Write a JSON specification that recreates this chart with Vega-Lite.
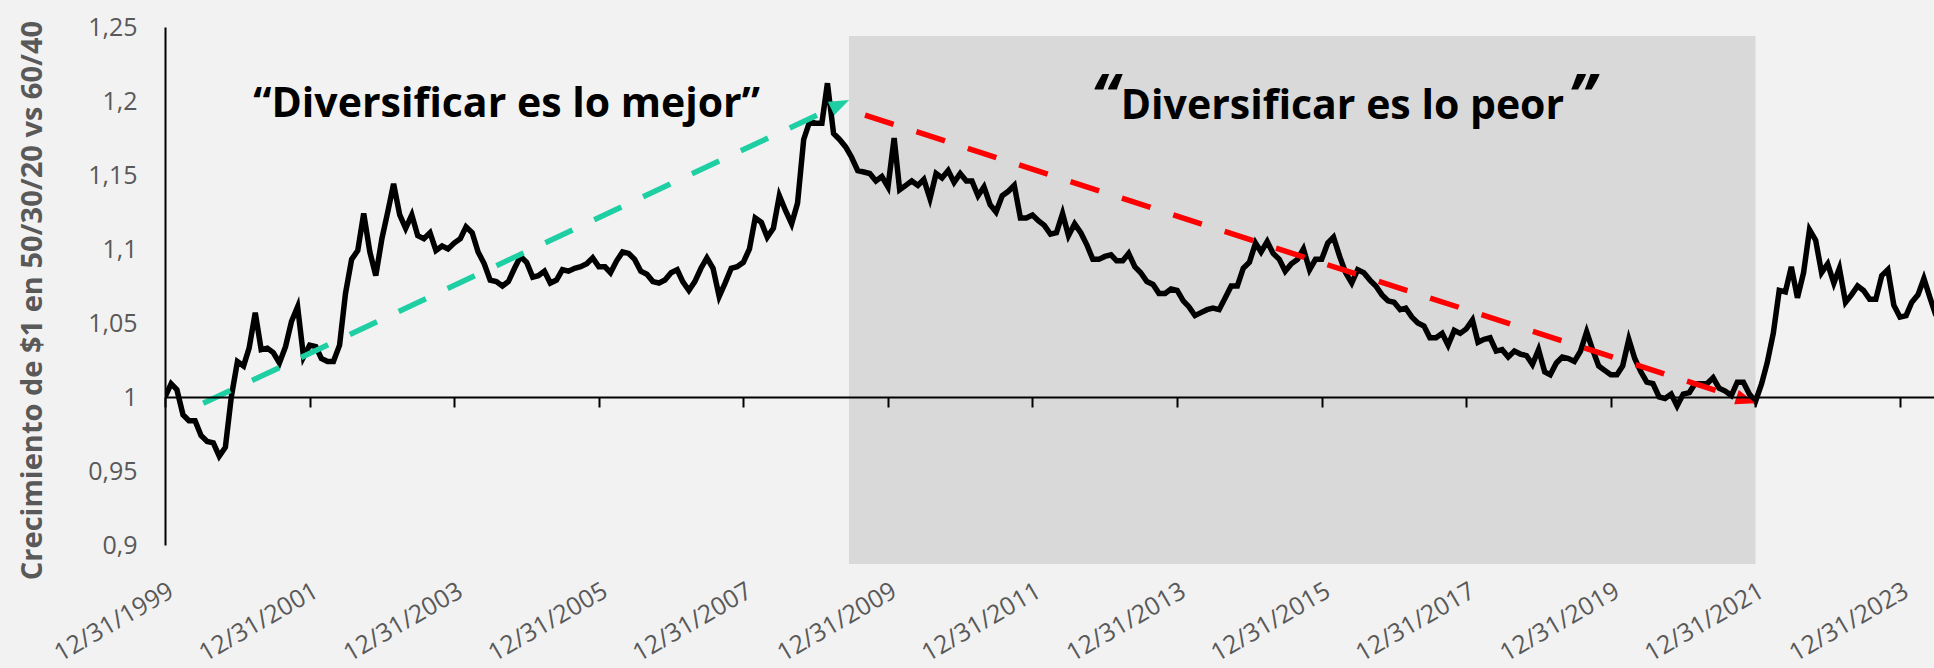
{
  "$schema": "https://vega.github.io/schema/vega-lite/v6.json",
  "width": 1769,
  "height": 518,
  "autosize": {"type": "none"},
  "padding": {"left": 165, "top": 27, "right": 0, "bottom": 123},
  "background": "#f2f2f2",
  "config": {"view": {"stroke": null}, "font": "Open Sans"},
  "datasets": {
    "series": [
      {"date":"1999-12-31","value":1.000},
      {"date":"2000-01-31","value":1.009},{"date":"2000-02-29","value":1.005},{"date":"2000-03-31","value":0.988},{"date":"2000-04-30","value":0.984},{"date":"2000-05-31","value":0.984},{"date":"2000-06-30","value":0.974},{"date":"2000-07-31","value":0.970},{"date":"2000-08-31","value":0.969},{"date":"2000-09-30","value":0.960},{"date":"2000-10-31","value":0.966},{"date":"2000-11-30","value":1.000},{"date":"2000-12-31","value":1.024},
      {"date":"2001-01-31","value":1.021},{"date":"2001-02-28","value":1.033},{"date":"2001-03-31","value":1.057},{"date":"2001-04-30","value":1.032},{"date":"2001-05-31","value":1.033},{"date":"2001-06-30","value":1.030},{"date":"2001-07-31","value":1.023},{"date":"2001-08-31","value":1.034},{"date":"2001-09-30","value":1.051},{"date":"2001-10-31","value":1.061},{"date":"2001-11-30","value":1.027},{"date":"2001-12-31","value":1.035},
      {"date":"2002-01-31","value":1.034},{"date":"2002-02-28","value":1.026},{"date":"2002-03-31","value":1.024},{"date":"2002-04-30","value":1.024},{"date":"2002-05-31","value":1.035},{"date":"2002-06-30","value":1.070},{"date":"2002-07-31","value":1.093},{"date":"2002-08-31","value":1.099},{"date":"2002-09-30","value":1.124},{"date":"2002-10-31","value":1.098},{"date":"2002-11-30","value":1.082},{"date":"2002-12-31","value":1.107},
      {"date":"2003-01-31","value":1.126},{"date":"2003-02-28","value":1.144},{"date":"2003-03-31","value":1.123},{"date":"2003-04-30","value":1.114},{"date":"2003-05-31","value":1.123},{"date":"2003-06-30","value":1.109},{"date":"2003-07-31","value":1.107},{"date":"2003-08-31","value":1.111},{"date":"2003-09-30","value":1.099},{"date":"2003-10-31","value":1.102},{"date":"2003-11-30","value":1.100},{"date":"2003-12-31","value":1.104},
      {"date":"2004-01-31","value":1.107},{"date":"2004-02-29","value":1.115},{"date":"2004-03-31","value":1.111},{"date":"2004-04-30","value":1.098},{"date":"2004-05-31","value":1.090},{"date":"2004-06-30","value":1.079},{"date":"2004-07-31","value":1.078},{"date":"2004-08-31","value":1.075},{"date":"2004-09-30","value":1.078},{"date":"2004-10-31","value":1.087},{"date":"2004-11-30","value":1.095},{"date":"2004-12-31","value":1.091},
      {"date":"2005-01-31","value":1.081},{"date":"2005-02-28","value":1.082},{"date":"2005-03-31","value":1.085},{"date":"2005-04-30","value":1.077},{"date":"2005-05-31","value":1.079},{"date":"2005-06-30","value":1.086},{"date":"2005-07-31","value":1.085},{"date":"2005-08-31","value":1.087},{"date":"2005-09-30","value":1.088},{"date":"2005-10-31","value":1.090},{"date":"2005-11-30","value":1.094},{"date":"2005-12-31","value":1.088},
      {"date":"2006-01-31","value":1.088},{"date":"2006-02-28","value":1.084},{"date":"2006-03-31","value":1.092},{"date":"2006-04-30","value":1.098},{"date":"2006-05-31","value":1.097},{"date":"2006-06-30","value":1.093},{"date":"2006-07-31","value":1.085},{"date":"2006-08-31","value":1.083},{"date":"2006-09-30","value":1.078},{"date":"2006-10-31","value":1.077},{"date":"2006-11-30","value":1.079},{"date":"2006-12-31","value":1.084},
      {"date":"2007-01-31","value":1.086},{"date":"2007-02-28","value":1.078},{"date":"2007-03-31","value":1.072},{"date":"2007-04-30","value":1.078},{"date":"2007-05-31","value":1.087},{"date":"2007-06-30","value":1.094},{"date":"2007-07-31","value":1.087},{"date":"2007-08-31","value":1.068},{"date":"2007-09-30","value":1.077},{"date":"2007-10-31","value":1.087},{"date":"2007-11-30","value":1.088},{"date":"2007-12-31","value":1.091},
      {"date":"2008-01-31","value":1.100},{"date":"2008-02-29","value":1.121},{"date":"2008-03-31","value":1.118},{"date":"2008-04-30","value":1.108},{"date":"2008-05-31","value":1.114},{"date":"2008-06-30","value":1.136},{"date":"2008-07-31","value":1.126},{"date":"2008-08-31","value":1.117},{"date":"2008-09-30","value":1.131},{"date":"2008-10-31","value":1.174},{"date":"2008-11-30","value":1.186},{"date":"2008-12-31","value":1.185},
      {"date":"2009-01-31","value":1.185},{"date":"2009-02-28","value":1.212},{"date":"2009-03-31","value":1.178},{"date":"2009-04-30","value":1.174},{"date":"2009-05-31","value":1.169},{"date":"2009-06-30","value":1.162},{"date":"2009-07-31","value":1.153},{"date":"2009-08-31","value":1.152},{"date":"2009-09-30","value":1.151},{"date":"2009-10-31","value":1.146},{"date":"2009-11-30","value":1.149},{"date":"2009-12-31","value":1.142},
      {"date":"2010-01-31","value":1.175},{"date":"2010-02-28","value":1.140},{"date":"2010-03-31","value":1.143},{"date":"2010-04-30","value":1.146},{"date":"2010-05-31","value":1.143},{"date":"2010-06-30","value":1.147},{"date":"2010-07-31","value":1.134},{"date":"2010-08-31","value":1.151},{"date":"2010-09-30","value":1.148},{"date":"2010-10-31","value":1.153},{"date":"2010-11-30","value":1.145},{"date":"2010-12-31","value":1.151},
      {"date":"2011-01-31","value":1.146},{"date":"2011-02-28","value":1.146},{"date":"2011-03-31","value":1.136},{"date":"2011-04-30","value":1.142},{"date":"2011-05-31","value":1.130},{"date":"2011-06-30","value":1.125},{"date":"2011-07-31","value":1.136},{"date":"2011-08-31","value":1.139},{"date":"2011-09-30","value":1.143},{"date":"2011-10-31","value":1.121},{"date":"2011-11-30","value":1.121},{"date":"2011-12-31","value":1.123},
      {"date":"2012-01-31","value":1.119},{"date":"2012-02-29","value":1.116},{"date":"2012-03-31","value":1.110},{"date":"2012-04-30","value":1.111},{"date":"2012-05-31","value":1.124},{"date":"2012-06-30","value":1.109},{"date":"2012-07-31","value":1.117},{"date":"2012-08-31","value":1.111},{"date":"2012-09-30","value":1.103},{"date":"2012-10-31","value":1.093},{"date":"2012-11-30","value":1.093},{"date":"2012-12-31","value":1.095},
      {"date":"2013-01-31","value":1.096},{"date":"2013-02-28","value":1.092},{"date":"2013-03-31","value":1.092},{"date":"2013-04-30","value":1.097},{"date":"2013-05-31","value":1.088},{"date":"2013-06-30","value":1.084},{"date":"2013-07-31","value":1.078},{"date":"2013-08-31","value":1.076},{"date":"2013-09-30","value":1.070},{"date":"2013-10-31","value":1.070},{"date":"2013-11-30","value":1.073},{"date":"2013-12-31","value":1.072},
      {"date":"2014-01-31","value":1.065},{"date":"2014-02-28","value":1.061},{"date":"2014-03-31","value":1.055},{"date":"2014-04-30","value":1.057},{"date":"2014-05-31","value":1.059},{"date":"2014-06-30","value":1.060},{"date":"2014-07-31","value":1.059},{"date":"2014-08-31","value":1.067},{"date":"2014-09-30","value":1.075},{"date":"2014-10-31","value":1.075},{"date":"2014-11-30","value":1.087},{"date":"2014-12-31","value":1.091},
      {"date":"2015-01-31","value":1.104},{"date":"2015-02-28","value":1.098},{"date":"2015-03-31","value":1.105},{"date":"2015-04-30","value":1.097},{"date":"2015-05-31","value":1.093},{"date":"2015-06-30","value":1.085},{"date":"2015-07-31","value":1.090},{"date":"2015-08-31","value":1.093},{"date":"2015-09-30","value":1.100},{"date":"2015-10-31","value":1.086},{"date":"2015-11-30","value":1.093},{"date":"2015-12-31","value":1.093},
      {"date":"2016-01-31","value":1.104},{"date":"2016-02-29","value":1.108},{"date":"2016-03-31","value":1.095},{"date":"2016-04-30","value":1.084},{"date":"2016-05-31","value":1.077},{"date":"2016-06-30","value":1.086},{"date":"2016-07-31","value":1.084},{"date":"2016-08-31","value":1.079},{"date":"2016-09-30","value":1.075},{"date":"2016-10-31","value":1.069},{"date":"2016-11-30","value":1.065},{"date":"2016-12-31","value":1.064},
      {"date":"2017-01-31","value":1.059},{"date":"2017-02-28","value":1.060},{"date":"2017-03-31","value":1.054},{"date":"2017-04-30","value":1.050},{"date":"2017-05-31","value":1.048},{"date":"2017-06-30","value":1.040},{"date":"2017-07-31","value":1.040},{"date":"2017-08-31","value":1.043},{"date":"2017-09-30","value":1.035},{"date":"2017-10-31","value":1.045},{"date":"2017-11-30","value":1.043},{"date":"2017-12-31","value":1.046},
      {"date":"2018-01-31","value":1.052},{"date":"2018-02-28","value":1.037},{"date":"2018-03-31","value":1.039},{"date":"2018-04-30","value":1.040},{"date":"2018-05-31","value":1.031},{"date":"2018-06-30","value":1.032},{"date":"2018-07-31","value":1.027},{"date":"2018-08-31","value":1.031},{"date":"2018-09-30","value":1.029},{"date":"2018-10-31","value":1.028},{"date":"2018-11-30","value":1.022},{"date":"2018-12-31","value":1.032},
      {"date":"2019-01-31","value":1.017},{"date":"2019-02-28","value":1.015},{"date":"2019-03-31","value":1.023},{"date":"2019-04-30","value":1.027},{"date":"2019-05-31","value":1.026},{"date":"2019-06-30","value":1.024},{"date":"2019-07-31","value":1.031},{"date":"2019-08-31","value":1.044},{"date":"2019-09-30","value":1.032},{"date":"2019-10-31","value":1.021},{"date":"2019-11-30","value":1.018},{"date":"2019-12-31","value":1.015},
      {"date":"2020-01-31","value":1.015},{"date":"2020-02-29","value":1.021},{"date":"2020-03-31","value":1.039},{"date":"2020-04-30","value":1.026},{"date":"2020-05-31","value":1.017},{"date":"2020-06-30","value":1.010},{"date":"2020-07-31","value":1.009},{"date":"2020-08-31","value":1.000},{"date":"2020-09-30","value":0.999},{"date":"2020-10-31","value":1.002},{"date":"2020-11-30","value":0.994},{"date":"2020-12-31","value":1.002},
      {"date":"2021-01-31","value":1.003},{"date":"2021-02-28","value":1.009},{"date":"2021-03-31","value":1.009},{"date":"2021-04-30","value":1.009},{"date":"2021-05-31","value":1.013},{"date":"2021-06-30","value":1.006},{"date":"2021-07-31","value":1.004},{"date":"2021-08-31","value":1.001},{"date":"2021-09-30","value":1.010},{"date":"2021-10-31","value":1.010},{"date":"2021-11-30","value":1.002},{"date":"2021-12-31","value":0.997},
      {"date":"2022-01-31","value":1.009},{"date":"2022-02-28","value":1.023},{"date":"2022-03-31","value":1.043},{"date":"2022-04-30","value":1.072},{"date":"2022-05-31","value":1.071},{"date":"2022-06-30","value":1.088},{"date":"2022-07-31","value":1.067},{"date":"2022-08-31","value":1.084},{"date":"2022-09-30","value":1.113},{"date":"2022-10-31","value":1.106},{"date":"2022-11-30","value":1.084},{"date":"2022-12-31","value":1.090},
      {"date":"2023-01-31","value":1.077},{"date":"2023-02-28","value":1.087},{"date":"2023-03-31","value":1.064},{"date":"2023-04-30","value":1.069},{"date":"2023-05-31","value":1.075},{"date":"2023-06-30","value":1.072},{"date":"2023-07-31","value":1.066},{"date":"2023-08-31","value":1.066},{"date":"2023-09-30","value":1.082},{"date":"2023-10-31","value":1.086},{"date":"2023-11-30","value":1.062},{"date":"2023-12-31","value":1.054},
      {"date":"2024-01-31","value":1.055},{"date":"2024-02-29","value":1.064},{"date":"2024-03-31","value":1.069},{"date":"2024-04-30","value":1.080},{"date":"2024-05-31","value":1.067},{"date":"2024-06-30","value":1.055}
    ],
    "band": [{"start": "2009-06-17", "end": "2021-12-31", "top": 1.2439, "bottom": 0.8872}],
    "tealLine": [{"d": "2000-07-11", "v": 0.9957}, {"d": "2009-05-03", "v": 1.1978}],
    "tealHead": [{"d": "2009-05-03", "v": 1.1978}],
    "redLine": [{"d": "2009-09-06", "v": 1.1905}, {"d": "2021-11-13", "v": 0.9978}],
    "redHead": [{"d": "2021-11-13", "v": 0.9978}],
    "labels": [
      {"d": "2004-09-21", "v": 1.1894, "t": "“Diversificar es lo mejor”"},
      {"d": "2016-04-14", "v": 1.1878, "t": "Diversificar es lo peor"}
    ],
    "quotes": [
      {"d": "2012-12-29", "v": 1.1878, "t": "“"},
      {"d": "2019-08-05", "v": 1.1878, "t": "”"}
    ]
  },
  "layer": [
    {
      "data": {"name": "band"},
      "mark": {"type": "rect", "color": "#d9d9d9"},
      "encoding": {
        "x": {
          "field": "start", "type": "temporal",
          "scale": {"type": "utc", "domain": [{"year": 1999, "month": 12, "date": 31, "utc": true}, {"year": 2024, "month": 6, "date": 20, "utc": true}]},
          "axis": {
            "title": null,
            "values": [
              {"year": 1999, "month": 12, "date": 31, "utc": true},
              {"year": 2001, "month": 12, "date": 31, "utc": true},
              {"year": 2003, "month": 12, "date": 31, "utc": true},
              {"year": 2005, "month": 12, "date": 31, "utc": true},
              {"year": 2007, "month": 12, "date": 31, "utc": true},
              {"year": 2009, "month": 12, "date": 31, "utc": true},
              {"year": 2011, "month": 12, "date": 31, "utc": true},
              {"year": 2013, "month": 12, "date": 31, "utc": true},
              {"year": 2015, "month": 12, "date": 31, "utc": true},
              {"year": 2017, "month": 12, "date": 31, "utc": true},
              {"year": 2019, "month": 12, "date": 31, "utc": true},
              {"year": 2021, "month": 12, "date": 31, "utc": true},
              {"year": 2023, "month": 12, "date": 31, "utc": true}
            ],
            "labelExpr": "utcFormat(datum.value, '%m/%d/%Y')",
            "labelAngle": -30,
            "labelAlign": "right",
            "labelBaseline": "top",
            "labelFont": "Open Sans",
            "labelFontSize": 25,
            "labelColor": "#595959",
            "labelPadding": 171,
            "labelFlush": false,
            "labelOverlap": false,
            "labelBound": false,
            "offset": -148,
            "domainColor": "#000000",
            "domainWidth": 2,
            "tickColor": "#000000",
            "tickWidth": 2,
            "tickSize": 10,
            "grid": false,
            "zindex": 1
          }
        },
        "x2": {"field": "end"},
        "y": {
          "field": "top", "type": "quantitative",
          "scale": {"domain": [0.9, 1.25], "nice": false, "zero": false},
          "axis": {
            "title": "Crecimiento de $1 en 50/30/20 vs 60/40",
            "titleFont": "Open Sans",
            "titleFontSize": 29,
            "titleFontWeight": "bold",
            "titleColor": "#595959",
            "titleAngle": -90,
            "titleAlign": "center",
            "titleBaseline": "middle",
            "titleX": -133,
            "titleY": 273,
            "values": [0.9, 0.95, 1, 1.05, 1.1, 1.15, 1.2, 1.25],
            "labelExpr": "replace(format(datum.value, '.2~f'), '.', ',')",
            "labelFont": "Open Sans",
            "labelFontSize": 25,
            "labelColor": "#595959",
            "labelPadding": 28,
            "labelBaseline": "middle",
            "labelOverlap": false,
            "labelFlush": false,
            "ticks": false,
            "domainColor": "#000000",
            "domainWidth": 2,
            "grid": false,
            "zindex": 1
          }
        },
        "y2": {"field": "bottom"}
      }
    },
    {
      "data": {"name": "series"},
      "mark": {"type": "line", "color": "#000000", "strokeWidth": 5.5, "clip": true},
      "encoding": {
        "x": {"field": "date", "type": "temporal", "title": null, "scale": {"type": "utc", "domain": [{"year": 1999, "month": 12, "date": 31, "utc": true}, {"year": 2024, "month": 6, "date": 20, "utc": true}]}},
        "y": {"field": "value", "type": "quantitative", "title": "Crecimiento de $1 en 50/30/20 vs 60/40", "scale": {"domain": [0.9, 1.25], "nice": false, "zero": false}}
      }
    },
    {
      "data": {"name": "tealLine"},
      "mark": {"type": "line", "color": "#1dcfa2", "strokeWidth": 5.5, "strokeDash": [30, 24]},
      "encoding": {
        "x": {"field": "d", "type": "temporal", "title": null, "scale": {"type": "utc", "domain": [{"year": 1999, "month": 12, "date": 31, "utc": true}, {"year": 2024, "month": 6, "date": 20, "utc": true}]}},
        "y": {"field": "v", "type": "quantitative", "title": "Crecimiento de $1 en 50/30/20 vs 60/40", "scale": {"domain": [0.9, 1.25], "nice": false, "zero": false}}
      }
    },
    {
      "data": {"name": "tealHead"},
      "mark": {"type": "point", "shape": "M-1,-0.75L1,0L-1,0.75Z", "filled": true, "color": "#1dcfa2", "opacity": 1, "size": 400, "angle": 334.85},
      "encoding": {
        "x": {"field": "d", "type": "temporal", "title": null, "scale": {"type": "utc", "domain": [{"year": 1999, "month": 12, "date": 31, "utc": true}, {"year": 2024, "month": 6, "date": 20, "utc": true}]}},
        "y": {"field": "v", "type": "quantitative", "title": "Crecimiento de $1 en 50/30/20 vs 60/40", "scale": {"domain": [0.9, 1.25], "nice": false, "zero": false}}
      }
    },
    {
      "data": {"name": "redLine"},
      "mark": {"type": "line", "color": "#ff0000", "strokeWidth": 5.5, "strokeDash": [30, 24]},
      "encoding": {
        "x": {"field": "d", "type": "temporal", "title": null, "scale": {"type": "utc", "domain": [{"year": 1999, "month": 12, "date": 31, "utc": true}, {"year": 2024, "month": 6, "date": 20, "utc": true}]}},
        "y": {"field": "v", "type": "quantitative", "title": "Crecimiento de $1 en 50/30/20 vs 60/40", "scale": {"domain": [0.9, 1.25], "nice": false, "zero": false}}
      }
    },
    {
      "data": {"name": "redHead"},
      "mark": {"type": "point", "shape": "M-1,-0.75L1,0L-1,0.75Z", "filled": true, "color": "#ff0000", "opacity": 1, "size": 400, "angle": 17.94},
      "encoding": {
        "x": {"field": "d", "type": "temporal", "title": null, "scale": {"type": "utc", "domain": [{"year": 1999, "month": 12, "date": 31, "utc": true}, {"year": 2024, "month": 6, "date": 20, "utc": true}]}},
        "y": {"field": "v", "type": "quantitative", "title": "Crecimiento de $1 en 50/30/20 vs 60/40", "scale": {"domain": [0.9, 1.25], "nice": false, "zero": false}}
      }
    },
    {
      "data": {"name": "labels"},
      "mark": {"type": "text", "font": "Open Sans", "fontSize": 41, "fontWeight": "bold", "align": "center", "baseline": "alphabetic", "color": "#000000"},
      "encoding": {
        "x": {"field": "d", "type": "temporal", "title": null, "scale": {"type": "utc", "domain": [{"year": 1999, "month": 12, "date": 31, "utc": true}, {"year": 2024, "month": 6, "date": 20, "utc": true}]}},
        "y": {"field": "v", "type": "quantitative", "title": "Crecimiento de $1 en 50/30/20 vs 60/40", "scale": {"domain": [0.9, 1.25], "nice": false, "zero": false}},
        "text": {"field": "t"}
      }
    },
    {
      "data": {"name": "quotes"},
      "mark": {"type": "text", "font": "Open Sans", "fontSize": 62, "fontWeight": "bold", "fontStyle": "italic", "align": "center", "baseline": "alphabetic", "color": "#000000"},
      "encoding": {
        "x": {"field": "d", "type": "temporal", "title": null, "scale": {"type": "utc", "domain": [{"year": 1999, "month": 12, "date": 31, "utc": true}, {"year": 2024, "month": 6, "date": 20, "utc": true}]}},
        "y": {"field": "v", "type": "quantitative", "title": "Crecimiento de $1 en 50/30/20 vs 60/40", "scale": {"domain": [0.9, 1.25], "nice": false, "zero": false}},
        "text": {"field": "t"}
      }
    }
  ]
}
